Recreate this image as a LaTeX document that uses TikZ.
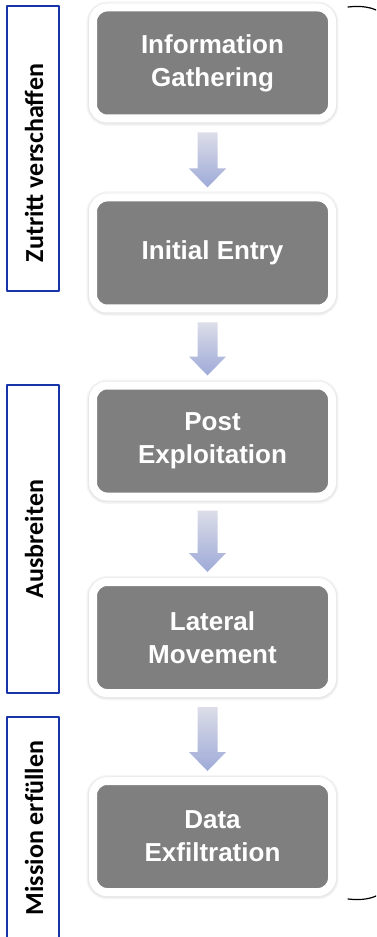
\documentclass[tikz,border=0pt]{standalone}
\usepackage{fontspec}
\setmainfont{Liberation Sans}
\newfontfamily\phasefont{Carlito}
\usetikzlibrary{calc}
\definecolor{stepgray}{RGB}{127,127,127}
\definecolor{phaseblue}{RGB}{24,52,170}
\definecolor{arrowtop}{RGB}{220,221,232}
\definecolor{arrowbottom}{RGB}{158,170,216}
\begin{document}
\begin{tikzpicture}[x=0.75pt,y=-0.75pt,line join=round,line cap=round,
	stepbox/.style={fill=stepgray,draw=white,line width=6pt,rounded corners=10.5pt,
		minimum width=179.25pt,minimum height=83.25pt,align=center,text=white,
		font=\bfseries\fontsize{19.5}{24.75}\selectfont,
		preaction={draw=black!4,line width=10pt,transform canvas={yshift=-0.5pt}},
		preaction={draw=black!9,line width=7.8pt,transform canvas={yshift=-0.5pt}}},
	phasebox/.style={draw=phaseblue,line width=1.2pt},
	phaselabel/.style={rotate=90,font=\phasefont\bfseries\fontsize{19.5}{22}\selectfont},
	flowarrow/.style={top color=arrowtop,bottom color=arrowbottom,draw=none}]
	% Khung
	\clip (0,0) rectangle (376,937);
	% Các bước
	\node [stepbox] (info) at (212.5,63) {Information\\Gathering};
	\node [stepbox] (entry) at (212.5,253) {Initial Entry};
	\node [stepbox] (post) at (212.5,441) {Post\\Exploitation};
	\node [stepbox] (lateral) at (212.5,637.5) {Lateral\\Movement};
	\node [stepbox] (exfil) at (212.5,836.5) {Data\\Exfiltration};
	% Mũi tên
	\foreach \a/\b in {info/entry,entry/post,post/lateral,lateral/exfil}{
		\path ($(\a.south)+(-5,10)$) coordinate (s) ($(\b.north)+(-5,-6)$) coordinate (t);
		\shade [flowarrow] ($(s)+(-10,0)$) -- ($(s)+(10,0)$) -- ($(t)+(10,-19)$) -- ($(t)+(18.5,-19)$)
			-- (t) -- ($(t)+(-18.5,-19)$) -- ($(t)+(-10,-19)$) -- cycle;
	}
	% Các giai đoạn
	\draw [phasebox] (7,6) rectangle (59,291);
	\draw [phasebox] (7,385) rectangle (59,693);
	\draw [phasebox] (7,717) rectangle (59,950);
	\node [phaselabel] (gain) at (34,163) {Zutritt verschaffen};
	\node [phaselabel] (spread) at (34,539) {Ausbreiten};
	\node [phaselabel] (mission) at (34,828) {Mission erfüllen};
	% Ngoặc
	\draw [line width=0.9pt] (348,7) .. controls (362,5.5) and (372,7) .. (382,13);
	\draw [line width=0.9pt] (348,899) .. controls (362,900.5) and (372,899) .. (382,893);
\end{tikzpicture}
\end{document}
